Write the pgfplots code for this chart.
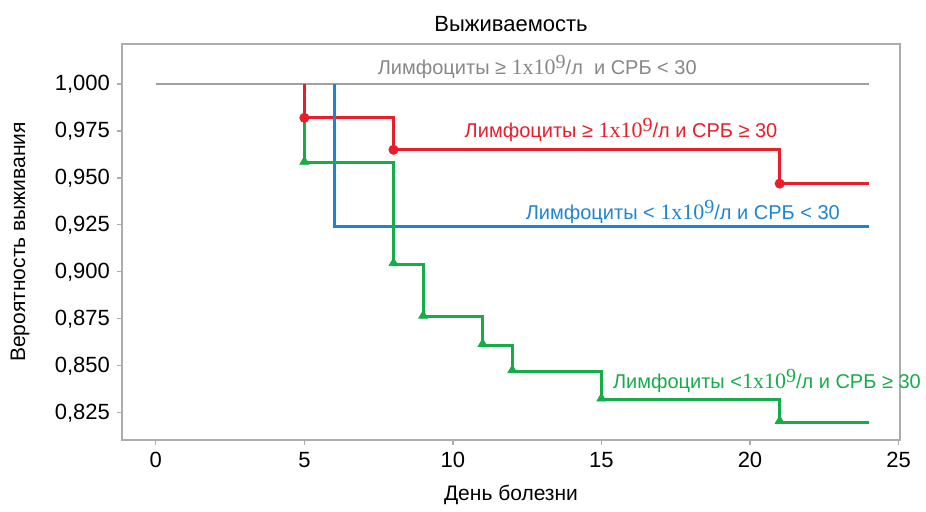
\documentclass[border=0pt]{standalone}
\usepackage{fontspec}
\setmainfont{Liberation Sans}
\newfontfamily\serif{Liberation Serif}
\usepackage{pgfplots}
\pgfplotsset{compat=1.18}
\usetikzlibrary{calc}

\definecolor{kmgray}{RGB}{160,160,160}
\definecolor{kmgraytext}{RGB}{135,135,135}
\definecolor{kmred}{RGB}{232,30,42}
\definecolor{kmblue}{RGB}{30,132,210}
\definecolor{kmgreen}{RGB}{22,172,72}
\definecolor{frame}{RGB}{175,172,168}

\newcommand{\dose}{{\serif\fontsize{11}{12}\selectfont 1x10}\raisebox{0.55ex}{\serif\fontsize{10}{12}\selectfont 9}/л}

\begin{document}
\begin{tikzpicture}
\begin{axis}[
  scale only axis, width=389pt, height=198pt,
  xmin=-1.14, xmax=25.05, ymin=0.8105, ymax=1.0213,
  xtick={0,5,10,15,20,25},
  ytick={0.825,0.85,0.875,0.9,0.925,0.95,0.975,1.0},
  yticklabel style={/pgf/number format/.cd, fixed, fixed zerofill, precision=3, use comma},
  /pgf/number format/assume math mode=true,
  tick align=outside, tick pos=left, major tick length=2.5pt,
  axis line style={frame, line width=0.7pt},
  tick style={frame, line width=0.6pt},
  ticklabel style={font=\fontsize{11}{13}\selectfont},
  every axis title shift=0pt,
  title={Выживаемость},
  title style={at={(axis description cs:0.5,1.0505)}, anchor=center, font=\fontsize{11}{13}\selectfont},
  xlabel={День болезни},
  xlabel style={at={(axis description cs:0.5,-0.139)}, anchor=center, font=\fontsize{10.5}{12}\selectfont},
  ylabel={Вероятность выживания},
  ylabel style={at={(axis description cs:-0.131,0.5)}, anchor=center, font=\fontsize{10.5}{12}\selectfont},
  clip=false,
]
\coordinate (sw) at (rel axis cs:0,0);

% Lymphocytes >= 1e9/l, CRP < 30: no events
\addplot[kmgray, line width=1.3pt] coordinates {(0,1.000) (24,1.000)};

% Lymphocytes >= 1e9/l, CRP >= 30
\addplot[kmred, line width=1.5pt] coordinates {
  (5,1.000) (5,0.982) (8,0.982) (8,0.965) (21,0.965) (21,0.947) (24,0.947)};
\addplot[kmred, only marks, mark=*, mark size=2.3pt] coordinates {
  (5,0.982) (8,0.965) (21,0.947)};

% Lymphocytes < 1e9/l, CRP < 30
\addplot[kmblue, line width=1.5pt] coordinates {
  (6,1.000) (6,0.924) (24,0.924)};

% Lymphocytes < 1e9/l, CRP >= 30
\addplot[kmgreen, line width=1.5pt] coordinates {
  (5,0.982) (5,0.958) (8,0.958) (8,0.904) (9,0.904) (9,0.876)
  (11,0.876) (11,0.861) (12,0.861) (12,0.847) (15,0.847) (15,0.832)
  (21,0.832) (21,0.820) (24,0.820)};
\addplot[kmgreen, only marks, mark=triangle*, mark size=2.6pt, mark options={yshift=0.6pt}] coordinates {
  (5,0.958) (8,0.904) (9,0.876) (11,0.861) (12,0.847) (15,0.832) (21,0.820)};

% curve labels
\node[kmgraytext, font=\fontsize{10}{12}\selectfont] at (axis cs:12.84,1.009)
  {Лимфоциты ≥ \dose{}\ \ и СРБ < 30};
\node[kmred, font=\fontsize{10}{12}\selectfont] at (axis cs:15.66,0.9755)
  {Лимфоциты ≥ \dose{} и СРБ ≥ 30};
\node[kmblue, font=\fontsize{10}{12}\selectfont] at (axis cs:17.74,0.9317)
  {Лимфоциты < \dose{} и СРБ < 30};
\node[kmgreen, font=\fontsize{10}{12}\selectfont] at (axis cs:20.57,0.842)
  {Лимфоциты <\dose{} и СРБ ≥ 30};
\end{axis}
\pgfresetboundingbox
\path[use as bounding box] ($(sw)+(-61pt,-36pt)$) rectangle ($(sw)+(402pt,220pt)$);
\end{tikzpicture}
\end{document}
